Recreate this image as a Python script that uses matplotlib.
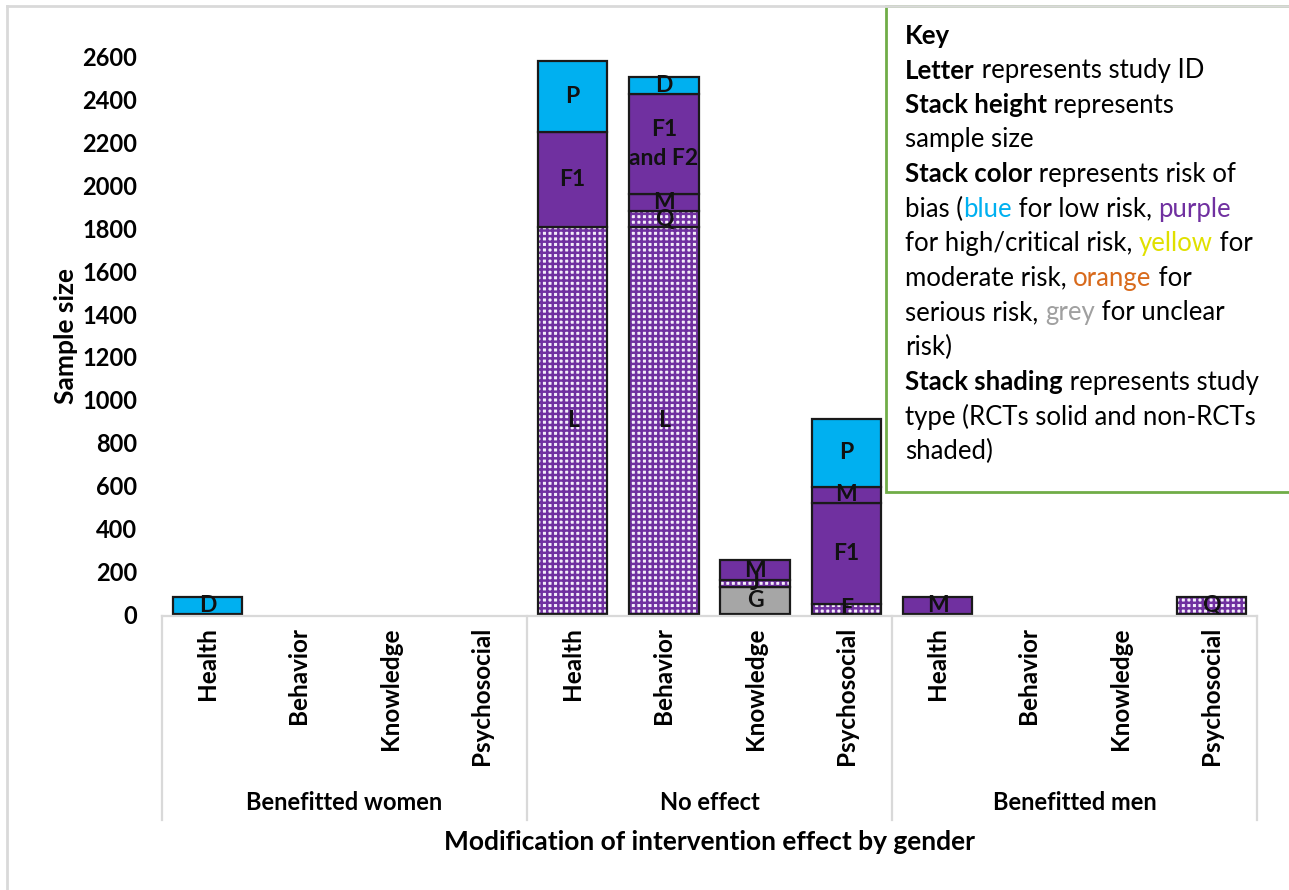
import matplotlib
matplotlib.use("Agg")
import matplotlib.pyplot as plt
from matplotlib.transforms import IdentityTransform
from matplotlib.lines import Line2D

plt.rcParams['font.family'] = ['Lato', 'DejaVu Sans']
plt.rcParams['hatch.linewidth'] = 1.8

# categories along x
cats = ["Health", "Behavior", "Knowledge", "Psychosocial"] * 3
groups = ["Benefitted women", "No effect", "Benefitted men"]

# stacked segments (bottom to top within each bar)
seg_bar = [0, 4, 4, 4, 5, 5, 5, 5, 5, 6, 6, 6, 7, 7, 7, 7, 8, 11]
seg_label = ["D", "L", "F1", "P", "L", "Q", "M", "F1\nand F2", "D",
             "G", "J", "M", "E", "F1", "M", "P", "M", "Q"]
seg_size = [78, 1805, 447, 331, 1805, 75, 81, 468, 76,
            125, 35, 90, 47, 469, 79, 317, 78, 78]
seg_risk = ["low", "high", "high", "low", "high", "high", "high", "high", "low",
            "unclear", "high", "high", "high", "high", "high", "low", "high", "high"]
seg_rct = [True, False, True, True, False, False, True, True, True,
           True, False, True, False, True, True, True, True, False]

risk_colors = {"low": "#00B0F0", "high": "#7030A0", "unclear": "#A6A6A6"}

W, H = 1289, 890
fig = plt.figure(figsize=(W / 100, H / 100), dpi=100)
ax = fig.add_axes([162 / W, (H - 614) / H, 1095 / W, (614 - 57) / H])

bottoms = [0] * len(cats)
for b, lab, size, risk, rct in zip(seg_bar, seg_label, seg_size, seg_risk, seg_rct):
    col = risk_colors[risk]
    if rct:
        ax.bar(b, size, bottom=bottoms[b], width=0.76, color=col,
               edgecolor="#1a1a1a", linewidth=1.6, clip_on=False)
    else:
        # non-RCTs: checkered shading
        ax.bar(b, size, bottom=bottoms[b], width=0.76, color="#f4eefa",
               edgecolor=col, hatch="+++", linewidth=0, clip_on=False)
        ax.bar(b, size, bottom=bottoms[b], width=0.76, fill=False,
               edgecolor="#1a1a1a", linewidth=1.6, clip_on=False)
    ax.text(b, bottoms[b] + size / 2, lab, ha="center", va="center",
            fontsize=16.5, fontweight="bold", color="#111111", linespacing=1.45)
    bottoms[b] += size

ax.set_xlim(-0.5, len(cats) - 0.5)
ax.set_ylim(0, 2600)
ax.set_yticks(range(0, 2601, 200))
ax.tick_params(axis="y", length=0, pad=18, labelsize=17)
for t in ax.get_yticklabels():
    t.set_fontweight("bold")
ax.set_xticks([])
for s in ax.spines.values():
    s.set_visible(False)
ax.set_ylabel("Sample size", fontsize=19, fontweight="bold", labelpad=3)

# category / group axis box
T = IdentityTransform()
grey = "#d9d9d9"
fig.add_artist(Line2D([162, 1257], [H - 616, H - 616], color=grey, lw=1.6, transform=T))
for i in range(4):
    x = 162 + i * 365
    fig.add_artist(Line2D([x, x], [H - 616, H - 820], color=grey, lw=1.6, transform=T))

xmid = [162 + (i + 0.5) * 1095 / 12 for i in range(12)]
for x, c in zip(xmid, cats):
    fig.text(x, H - 627, c, rotation=90, ha="center", va="top",
             fontsize=17.5, fontweight="bold", transform=T)
for i, g in enumerate(groups):
    fig.text(162 + (i + 0.5) * 365, H - 802, g, ha="center", va="center",
             fontsize=17, fontweight="bold", transform=T)
fig.text(709, H - 842, "Modification of intervention effect by gender",
         ha="center", va="center", fontsize=19, fontweight="bold", transform=T)

# outer frame
fig.add_artist(Line2D([7, 7], [0, H - 6], color=grey, lw=2, transform=T))
fig.add_artist(Line2D([7, W], [H - 6, H - 6], color=grey, lw=2, transform=T))

# key box
fig.add_artist(plt.Rectangle((886, H - 492), W - 886 + 5, 486, fill=True,
                             facecolor="white", edgecolor="#70AD47", lw=2,
                             transform=T, clip_on=False))

key_lines = [
    [("Key", "bold", "black")],
    [("Letter", "bold", "black"), (" represents study ID", "normal", "black")],
    [("Stack height", "bold", "black"), (" represents", "normal", "black")],
    [("sample size", "normal", "black")],
    [("Stack color", "bold", "black"), (" represents risk of", "normal", "black")],
    [("bias (", "normal", "black"), ("blue", "normal", "#00B0F0"),
     (" for low risk, ", "normal", "black"), ("purple", "normal", "#7030A0")],
    [("for high/critical risk, ", "normal", "black"), ("yellow", "normal", "#E0E000"),
     (" for", "normal", "black")],
    [("moderate risk, ", "normal", "black"), ("orange", "normal", "#D86A1C"),
     (" for", "normal", "black")],
    [("serious risk, ", "normal", "black"), ("grey", "normal", "#A0A0A0"),
     (" for unclear", "normal", "black")],
    [("risk)", "normal", "black")],
    [("Stack shading", "bold", "black"), (" represents study", "normal", "black")],
    [("type (RCTs solid and non-RCTs", "normal", "black")],
    [("shaded)", "normal", "black")],
]

renderer = fig.canvas.get_renderer()
key_fs = 18.5


def text_width(s, weight):
    t = fig.text(0, 0, s.replace(" ", "\u00a0"), fontsize=key_fs, fontweight=weight, transform=T)
    w = t.get_window_extent(renderer).width
    t.remove()
    return w


y = H - 36
for line in key_lines:
    x = 905
    for s, weight, col in line:
        fig.text(x, y, s.replace(" ", "\u00a0"), fontsize=key_fs, fontweight=weight,
                 color=col, va="center", ha="left", transform=T)
        x += text_width(s, weight)
    y -= 34.6

fig.savefig("out.png", dpi=100)
